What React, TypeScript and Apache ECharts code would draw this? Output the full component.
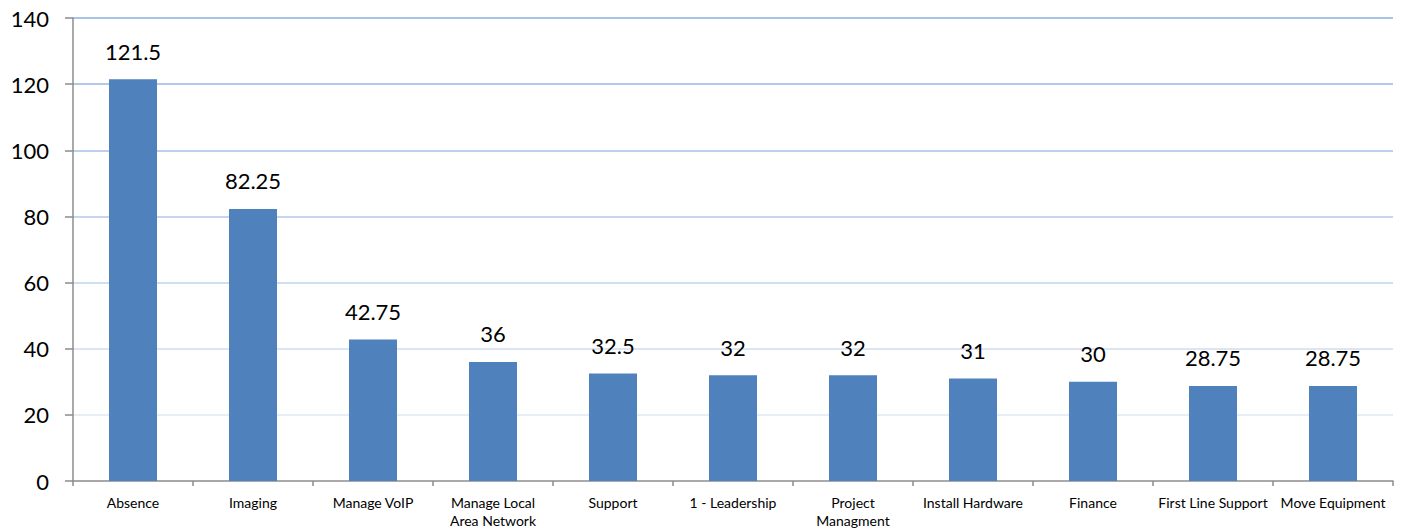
import React, { useEffect, useRef } from "react";
import * as echarts from "echarts";

const categories = [
  "Absence",
  "Imaging",
  "Manage VoIP",
  "Manage Local\nArea Network",
  "Support",
  "1 - Leadership",
  "Project\nManagment",
  "Install Hardware",
  "Finance",
  "First Line Support",
  "Move Equipment",
];
const values = [121.5, 82.25, 42.75, 36, 32.5, 32, 32, 31, 30, 28.75, 28.75];
const yTicks = { min: 0, max: 140, interval: 20 };

const FONT = "Lato, 'Open Sans', sans-serif";

export default function App() {
  const ref = useRef<HTMLDivElement>(null);
  useEffect(() => {
    if (!ref.current) return;
    const chart = echarts.init(ref.current, undefined, { renderer: "svg" });
    chart.setOption({
      animation: false,
      backgroundColor: "#ffffff",
      grid: { left: 73, right: 12, top: 18, bottom: 50, containLabel: false },
      xAxis: {
        type: "category",
        data: categories,
        axisLine: { lineStyle: { color: "#8c8c8c", width: 1.5 } },
        axisTick: { show: true, length: 5, lineStyle: { color: "#8c8c8c", width: 1.5 } },
        axisLabel: {
          color: "#000",
          fontSize: 14,
          fontFamily: FONT,
          margin: 12,
          lineHeight: 18,
          interval: 0,
        },
      },
      yAxis: {
        type: "value",
        min: yTicks.min,
        max: yTicks.max,
        interval: yTicks.interval,
        axisLine: { show: true, lineStyle: { color: "#8c8c8c", width: 1.5 } },
        axisTick: { show: true, inside: false, length: 8, lineStyle: { color: "#8c8c8c", width: 1.5 } },
        axisLabel: { color: "#000", fontSize: 22, fontFamily: FONT, margin: 24 },
        splitLine: {
          show: true,
          lineStyle: {
            width: 1.5,
            color: [
              "#ffffff",
              "#dfe8f6",
              "#d0ddf2",
              "#c1d3ee",
              "#b3c9ea",
              "#a6c0e8",
              "#9ab7e6",
              "#8fafe3",
            ],
          },
        },
      },
      series: [
        {
          type: "bar",
          data: values,
          barWidth: 48,
          itemStyle: { color: "#4f81bd" },
          label: {
            show: true,
            position: "top",
            distance: 17,
            color: "#000",
            fontSize: 22,
            fontFamily: FONT,
          },
        },
      ],
    });
    return () => chart.dispose();
  }, []);
  return (
    <div
      ref={ref}
      style={{ position: "absolute", left: 0, top: 0, width: 1405, height: 531 }}
    />
  );
}
